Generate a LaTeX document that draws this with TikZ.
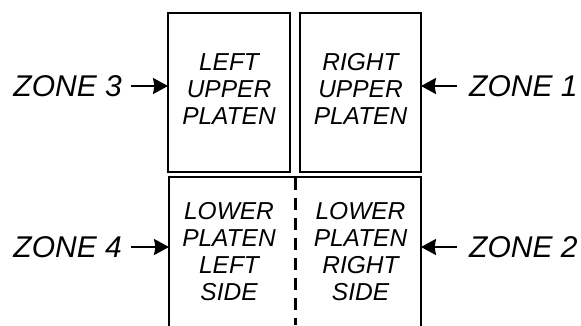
\documentclass[tikz,border=0pt]{standalone}
\usepackage{fontspec}
\setmainfont{Liberation Sans}
\usetikzlibrary{arrows.meta}
\begin{document}
\begin{tikzpicture}[x=1pt,y=-1pt,
  platen/.style={draw, line width=1.8pt},
  boxtext/.style={font=\fontsize{24.5}{27}\selectfont\itshape, align=center, inner sep=0pt},
  zonetext/.style={font=\fontsize{30}{32}\selectfont\itshape, inner sep=0pt},
  feed/.style={line width=2.2pt, -{Stealth[length=15pt,width=16pt,inset=1.5pt]}}]
  \useasboundingbox (0,0) rectangle (581,325);
  % upper platens
  \draw[platen] (168,13) rectangle (290,172);
  \draw[platen] (300,13) rectangle (421,172);
  \node[boxtext] (lup) at (229,89) {LEFT\\UPPER\\PLATEN};
  \node[boxtext] (rup) at (360.5,89) {RIGHT\\UPPER\\PLATEN};
  % lower platen, open at the bottom
  \draw[platen] (169,330) -- (169,177) -- (421,177) -- (421,330);
  \draw[line width=3pt, dash pattern=on 12pt off 8pt] (295,178) -- (295,325);
  \node[boxtext] (llp) at (229,252) {LOWER\\PLATEN\\LEFT\\SIDE};
  \node[boxtext] (rlp) at (360.5,252) {LOWER\\PLATEN\\RIGHT\\SIDE};
  % zone labels and feed arrows
  \coordinate (z3end) at (168,86);
  \coordinate (z4end) at (169,247);
  \coordinate (z1end) at (421,86);
  \coordinate (z2end) at (421,247);
  \node[zonetext, anchor=east] (z3) at (122,86) {ZONE 3};
  \node[zonetext, anchor=east] (z4) at (122,247) {ZONE 4};
  \node[zonetext, anchor=west] (z1) at (469,86) {ZONE 1};
  \node[zonetext, anchor=west] (z2) at (469,247) {ZONE 2};
  \draw[feed] ([xshift=9pt]z3.east) -- (z3end);
  \draw[feed] ([xshift=9pt]z4.east) -- (z4end);
  \draw[feed] ([xshift=-12pt]z1.west) -- (z1end);
  \draw[feed] ([xshift=-12pt]z2.west) -- (z2end);
\end{tikzpicture}
\end{document}
